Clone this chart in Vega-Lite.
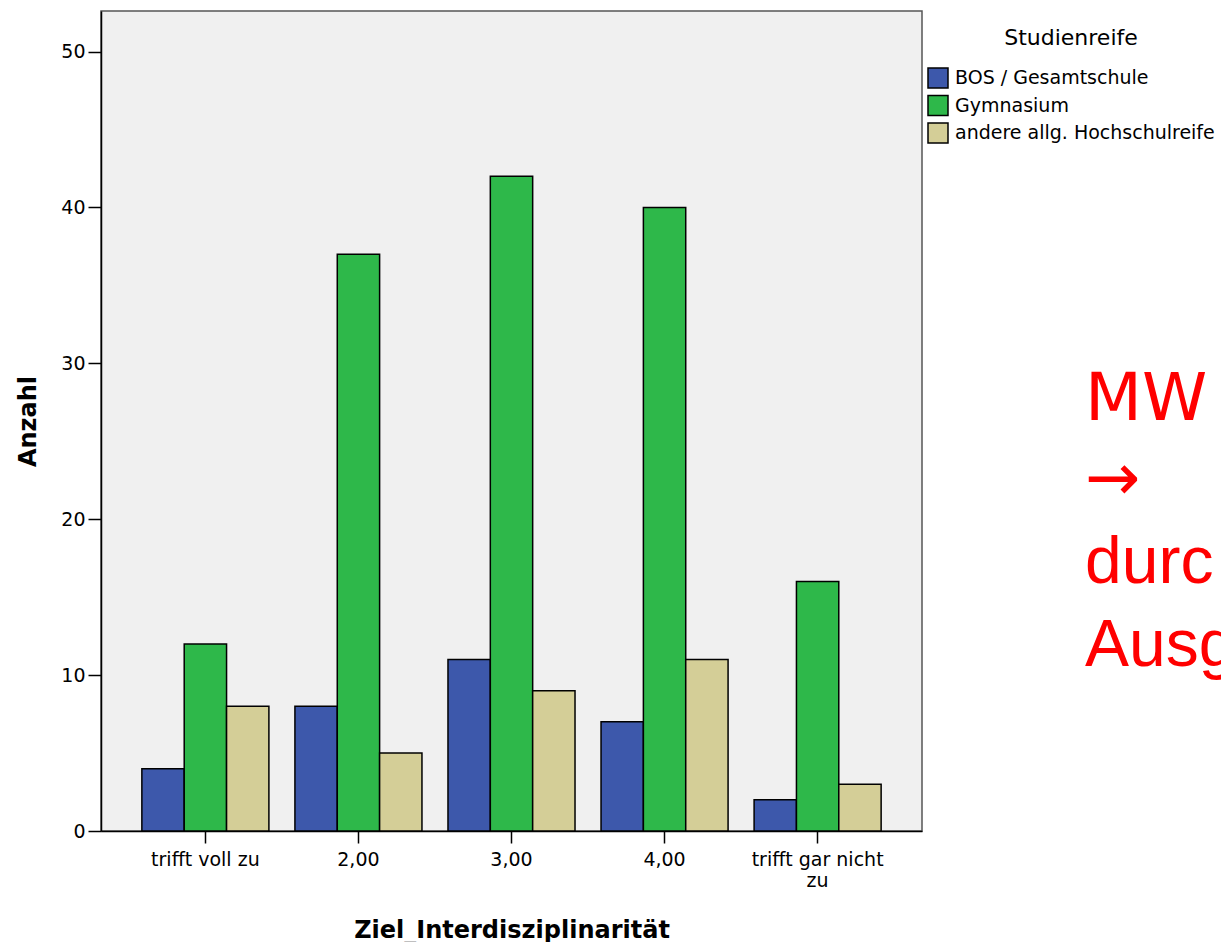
{
  "$schema": "https://vega.github.io/schema/vega-lite/v6.json",
  "width": 821,
  "height": 820,
  "padding": {"left": 16, "top": 11, "right": 0, "bottom": 0},
  "background": "#ffffff",
  "title": {
    "text": ["MW", "→"],
    "subtitle": ["durc", "Ausg"],
    "orient": "top",
    "anchor": "end",
    "frame": "group",
    "align": "left",
    "baseline": "top",
    "dx": 163,
    "dy": 669,
    "offset": 0,
    "fontSize": 66,
    "lineHeight": 80,
    "color": "#FF0000",
    "font": "DejaVu Sans",
    "fontWeight": "normal",
    "subtitleFont": "Liberation Sans",
    "subtitleFontSize": 66,
    "subtitleLineHeight": 83,
    "subtitleColor": "#FF0000",
    "subtitlePadding": 17
  },
  "data": {
    "values": [
      {"kat": "trifft voll zu", "reife": "BOS / Gesamtschule", "anzahl": 4},
      {"kat": "trifft voll zu", "reife": "Gymnasium", "anzahl": 12},
      {"kat": "trifft voll zu", "reife": "andere allg. Hochschulreife", "anzahl": 8},
      {"kat": "2,00", "reife": "BOS / Gesamtschule", "anzahl": 8},
      {"kat": "2,00", "reife": "Gymnasium", "anzahl": 37},
      {"kat": "2,00", "reife": "andere allg. Hochschulreife", "anzahl": 5},
      {"kat": "3,00", "reife": "BOS / Gesamtschule", "anzahl": 11},
      {"kat": "3,00", "reife": "Gymnasium", "anzahl": 42},
      {"kat": "3,00", "reife": "andere allg. Hochschulreife", "anzahl": 9},
      {"kat": "4,00", "reife": "BOS / Gesamtschule", "anzahl": 7},
      {"kat": "4,00", "reife": "Gymnasium", "anzahl": 40},
      {"kat": "4,00", "reife": "andere allg. Hochschulreife", "anzahl": 11},
      {"kat": "trifft gar nicht zu", "reife": "BOS / Gesamtschule", "anzahl": 2},
      {"kat": "trifft gar nicht zu", "reife": "Gymnasium", "anzahl": 16},
      {"kat": "trifft gar nicht zu", "reife": "andere allg. Hochschulreife", "anzahl": 3}
    ]
  },
  "mark": {"type": "bar", "stroke": "#000000", "strokeWidth": 1.5, "opacity": 1},
  "encoding": {
    "x": {
      "field": "kat",
      "type": "nominal",
      "sort": ["trifft voll zu", "2,00", "3,00", "4,00", "trifft gar nicht zu"],
      "scale": {"paddingInner": 0.17, "paddingOuter": 0.267},
      "axis": {
        "title": "Ziel_Interdisziplinarität",
        "labelAngle": 0,
        "labelExpr": "datum.value == 'trifft gar nicht zu' ? ['trifft gar nicht', 'zu'] : datum.value",
        "labelLineHeight": 21,
        "tickSize": 12,
        "labelPadding": 7,
        "titlePadding": 28
      }
    },
    "xOffset": {
      "field": "reife",
      "type": "nominal",
      "sort": ["BOS / Gesamtschule", "Gymnasium", "andere allg. Hochschulreife"],
      "scale": {"paddingInner": 0, "paddingOuter": 0}
    },
    "y": {
      "field": "anzahl",
      "type": "quantitative",
      "scale": {"domain": [0, 52.6], "nice": false, "zero": true},
      "axis": {
        "title": "Anzahl",
        "values": [0, 10, 20, 30, 40, 50],
        "grid": false,
        "tickSize": 13,
        "labelPadding": 3,
        "titlePadding": 20
      }
    },
    "color": {
      "field": "reife",
      "type": "nominal",
      "sort": ["BOS / Gesamtschule", "Gymnasium", "andere allg. Hochschulreife"],
      "scale": {
        "domain": ["BOS / Gesamtschule", "Gymnasium", "andere allg. Hochschulreife"],
        "range": ["#3D58AB", "#2EB84A", "#D4CE97"]
      },
      "legend": {
        "title": "Studienreife",
        "orient": "none",
        "legendX": 826,
        "legendY": 17,
        "titleAnchor": "middle",
        "titleFont": "DejaVu Sans",
        "titleFontSize": 22,
        "titleFontWeight": "normal",
        "titleColor": "#000000",
        "titlePadding": 17,
        "labelFont": "DejaVu Sans",
        "labelFontSize": 19,
        "labelColor": "#000000",
        "labelOffset": 6,
        "labelLimit": 400,
        "symbolType": "square",
        "symbolSize": 400,
        "symbolStrokeColor": "#000000",
        "symbolStrokeWidth": 1.5,
        "symbolOpacity": 1,
        "rowPadding": 1.5,
        "padding": 0
      }
    }
  },
  "config": {
    "view": {"fill": "#F0F0F0", "stroke": "#555555", "strokeWidth": 1.5},
    "axis": {
      "domainColor": "#000000",
      "domainWidth": 1.5,
      "tickColor": "#000000",
      "tickWidth": 1.5,
      "labelFont": "DejaVu Sans",
      "labelFontSize": 19,
      "labelColor": "#000000",
      "titleFont": "DejaVu Sans",
      "titleFontSize": 24,
      "titleFontWeight": "bold",
      "titleColor": "#000000"
    }
  }
}
